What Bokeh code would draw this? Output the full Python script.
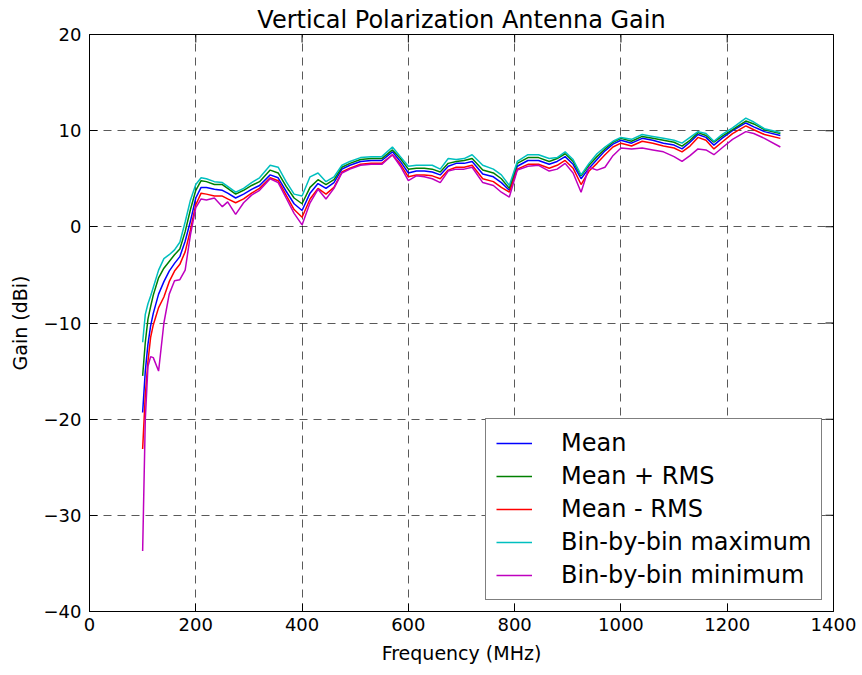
from bokeh.plotting import figure
from bokeh.models import Range1d, Legend, LegendItem, FixedTicker, ColumnDataSource
from bokeh.embed import file_html
from bokeh.resources import INLINE

# ---------------- data ----------------
freq = [100, 105, 110, 115, 120, 130, 140, 150, 160, 170, 180, 190, 200, 210,
        220, 235, 250, 260, 275, 290, 305, 320, 340, 355, 370, 385, 400,
        415, 430, 445, 460, 475, 490, 510, 530, 550, 570, 585, 600,
        615, 630, 645, 660, 675, 690, 705, 720, 740, 760, 775, 790,
        805, 825, 845, 865, 880, 895, 910, 925, 940, 955, 970, 985, 1000,
        1020, 1040, 1060, 1080, 1100, 1115, 1130, 1145, 1160, 1175, 1190, 1210, 1235, 1250, 1270, 1300]

gain_mean = [-19.3, -15.0, -12.2, -10.3, -9.0, -7.0, -5.7, -4.6, -3.8, -3.1, -1.5, 0.6, 3.0, 4.1,
             4.1, 3.9, 3.8, 3.5, 3.0, 3.4, 3.9, 4.3, 5.4, 5.1, 3.7, 2.4, 1.7,
             3.5, 4.5, 4.0, 4.6, 6.0, 6.4, 6.8, 6.9, 6.9, 7.8, 6.8, 5.6,
             5.8, 5.8, 5.7, 5.4, 6.3, 6.6, 6.6, 6.8, 5.5, 5.2, 4.6, 3.8,
             6.3, 6.9, 6.9, 6.5, 6.8, 7.3, 6.5, 5.0, 6.1, 7.0, 7.9, 8.6, 9.0,
             8.7, 9.2, 9.0, 8.7, 8.5, 8.1, 8.8, 9.6, 9.3, 8.5, 9.2, 10.0, 10.8, 10.4, 9.9, 9.5]

gain_plus_rms = [-15.5, -12.0, -9.6, -8.3, -7.1, -5.3, -4.3, -3.6, -2.9, -2.3, -0.5, 1.8, 3.8, 4.8,
                 4.7, 4.4, 4.4, 4.0, 3.4, 3.8, 4.3, 4.7, 5.9, 5.6, 4.2, 3.0, 2.4,
                 4.1, 4.9, 4.4, 4.9, 6.2, 6.6, 7.0, 7.1, 7.1, 8.0, 7.1, 6.0,
                 6.1, 6.1, 6.0, 5.7, 6.6, 6.8, 6.9, 7.1, 5.9, 5.6, 5.0, 4.0,
                 6.6, 7.2, 7.2, 6.8, 7.1, 7.6, 6.8, 5.3, 6.4, 7.3, 8.1, 8.8, 9.2,
                 8.9, 9.4, 9.2, 9.0, 8.8, 8.4, 9.0, 9.8, 9.5, 8.8, 9.4, 10.1, 11.0, 10.7, 10.1, 9.7]

gain_minus_rms = [-23.1, -17.5, -14.0, -11.5, -10.2, -8.4, -7.3, -5.7, -4.6, -3.9, -2.6, -0.3, 2.3, 3.5,
                  3.4, 3.2, 3.2, 2.9, 2.5, 2.9, 3.5, 4.0, 5.1, 4.8, 3.3, 1.8, 1.0,
                  2.9, 4.0, 3.4, 4.1, 5.7, 6.1, 6.5, 6.6, 6.6, 7.5, 6.5, 5.2,
                  5.4, 5.4, 5.3, 5.0, 5.9, 6.2, 6.2, 6.4, 5.0, 4.7, 4.1, 3.6,
                  6.0, 6.5, 6.5, 6.1, 6.4, 6.9, 6.1, 4.4, 5.8, 6.6, 7.5, 8.3, 8.7,
                  8.4, 8.9, 8.7, 8.4, 8.2, 7.8, 8.4, 9.3, 9.0, 8.1, 8.8, 9.7, 10.5, 10.1, 9.6, 9.2]

gain_max = [-12.0, -9.1, -8.0, -7.2, -6.3, -4.5, -3.3, -2.9, -2.4, -1.6, 0.5, 2.8, 4.4, 5.1,
            5.0, 4.7, 4.6, 4.2, 3.6, 4.0, 4.6, 5.1, 6.4, 6.2, 4.7, 3.4, 3.2,
            5.2, 5.6, 4.7, 5.2, 6.4, 6.8, 7.2, 7.3, 7.3, 8.3, 7.3, 6.3,
            6.4, 6.4, 6.4, 6.0, 7.1, 7.0, 7.1, 7.5, 6.4, 6.0, 5.4, 4.3,
            6.8, 7.5, 7.5, 7.1, 7.2, 7.8, 7.0, 5.4, 6.6, 7.6, 8.3, 8.9, 9.3,
            9.1, 9.6, 9.4, 9.2, 9.0, 8.7, 9.3, 9.9, 9.7, 8.9, 9.6, 10.3, 11.3, 10.9, 10.2, 9.8]

gain_min = [-33.7, -20.0, -14.5, -13.5, -13.6, -15.0, -10.0, -7.0, -5.6, -5.5, -4.5, -0.8, 2.0, 2.9,
            2.8, 3.0, 2.1, 2.6, 1.3, 2.5, 3.3, 3.8, 5.0, 4.6, 3.0, 1.4, 0.2,
            2.5, 3.9, 2.9, 4.0, 5.6, 6.0, 6.4, 6.5, 6.5, 7.5, 6.3, 4.8,
            5.3, 5.2, 5.0, 4.6, 5.8, 6.0, 6.0, 6.2, 4.6, 4.3, 3.6, 3.1,
            5.9, 6.3, 6.4, 5.8, 6.0, 6.6, 5.6, 3.6, 6.2, 5.9, 6.2, 7.4, 8.2,
            8.1, 8.2, 8.0, 7.8, 7.3, 6.8, 7.4, 8.1, 8.0, 7.5, 8.2, 9.1, 9.9, 9.7, 9.2, 8.3]

series_labels = ["Mean", "Mean + RMS", "Mean - RMS", "Bin-by-bin maximum", "Bin-by-bin minimum"]
series_colors = ["#0000ff", "#008000", "#ff0000", "#00bfbf", "#bf00bf"]

x_ticks = [0, 200, 400, 600, 800, 1000, 1200, 1400]
y_ticks = [-40, -30, -20, -10, 0, 10, 20]
x_min, x_max = 0, 1400
y_min, y_max = -40, 20

# ---------------- figure ----------------
FONT = "DejaVu Sans"
p = figure(width=862, height=675,
           x_range=Range1d(x_min, x_max), y_range=Range1d(y_min, y_max),
           output_backend="svg", toolbar_location=None,
           title="Vertical Polarization Antenna Gain",
           min_border_left=89, min_border_right=29,
           min_border_top=34, min_border_bottom=64)

p.background_fill_color = "white"
p.border_fill_color = "white"
p.outline_line_color = "black"
p.outline_line_width = 1

p.title.text_font = FONT
p.title.text_font_size = "24px"
p.title.text_font_style = "normal"
p.title.align = "center"
p.title.text_color = "black"
p.title.standoff = 2

ylabels = {v: (("\u2212" + str(abs(v))) if v < 0 else str(v)) for v in y_ticks}

def style_axis(ax, ticks):
    ax.ticker = FixedTicker(ticks=ticks)
    ax.axis_line_color = "black"
    ax.major_tick_line_color = "black"
    ax.major_tick_in = 8
    ax.major_tick_out = 0
    ax.minor_tick_in = 0
    ax.minor_tick_out = 0
    ax.major_label_text_font = FONT
    ax.major_label_text_color = "black"
    ax.major_label_text_font_size = "18px"
    ax.axis_label_text_font = FONT
    ax.axis_label_text_font_size = "19px"
    ax.axis_label_text_font_style = "normal"
    ax.axis_label_text_color = "black"

xax = p.xaxis[0]
style_axis(xax, x_ticks)
xax.major_label_standoff = 6
xax.axis_label = "Frequency (MHz)"
xax.axis_label_standoff = 8

yax = p.yaxis[0]
style_axis(yax, y_ticks)
yax.major_label_overrides = ylabels
yax.major_label_standoff = 8
yax.axis_label = "Gain (dBi)"
yax.axis_label_standoff = 10

for g, t in ((p.xgrid[0], x_ticks), (p.ygrid[0], y_ticks)):
    g.ticker = FixedTicker(ticks=t)
    g.grid_line_color = "black"
    g.grid_line_alpha = 0.65
    g.grid_line_dash = "8 6"
    g.grid_line_width = 1

# inward tick marks on the top and right frame edges (clipped to the frame)
p.rect(x=x_ticks, y=[y_max] * len(x_ticks), width=1, height=16,
       width_units="screen", height_units="screen",
       fill_color="black", line_color=None)
p.rect(x=[x_max] * len(y_ticks), y=y_ticks, width=16, height=1,
       width_units="screen", height_units="screen",
       fill_color="black", line_color=None)

src = ColumnDataSource(dict(f=freq, mean=gain_mean, plus=gain_plus_rms, minus=gain_minus_rms,
                            gmax=gain_max, gmin=gain_min))
cols = ["mean", "plus", "minus", "gmax", "gmin"]
items = []
for col, lab, colr in zip(cols, series_labels, series_colors):
    r = p.line("f", col, source=src, line_color=colr, line_width=1.5)
    items.append(LegendItem(label=lab, renderers=[r]))

legend = Legend(items=items, location=(396, 11))
legend.label_text_font = FONT
legend.label_text_font_size = "24px"
legend.label_text_color = "black"
legend.glyph_width = 36
legend.glyph_height = 28
legend.label_height = 28
legend.label_standoff = 29
legend.spacing = 5
legend.padding = 10
legend.margin = 0
legend.border_line_color = "black"
legend.border_line_width = 1.5
legend.background_fill_color = "white"
legend.background_fill_alpha = 1
p.add_layout(legend, "center")

open("out.html", "w").write(file_html(p, INLINE))
